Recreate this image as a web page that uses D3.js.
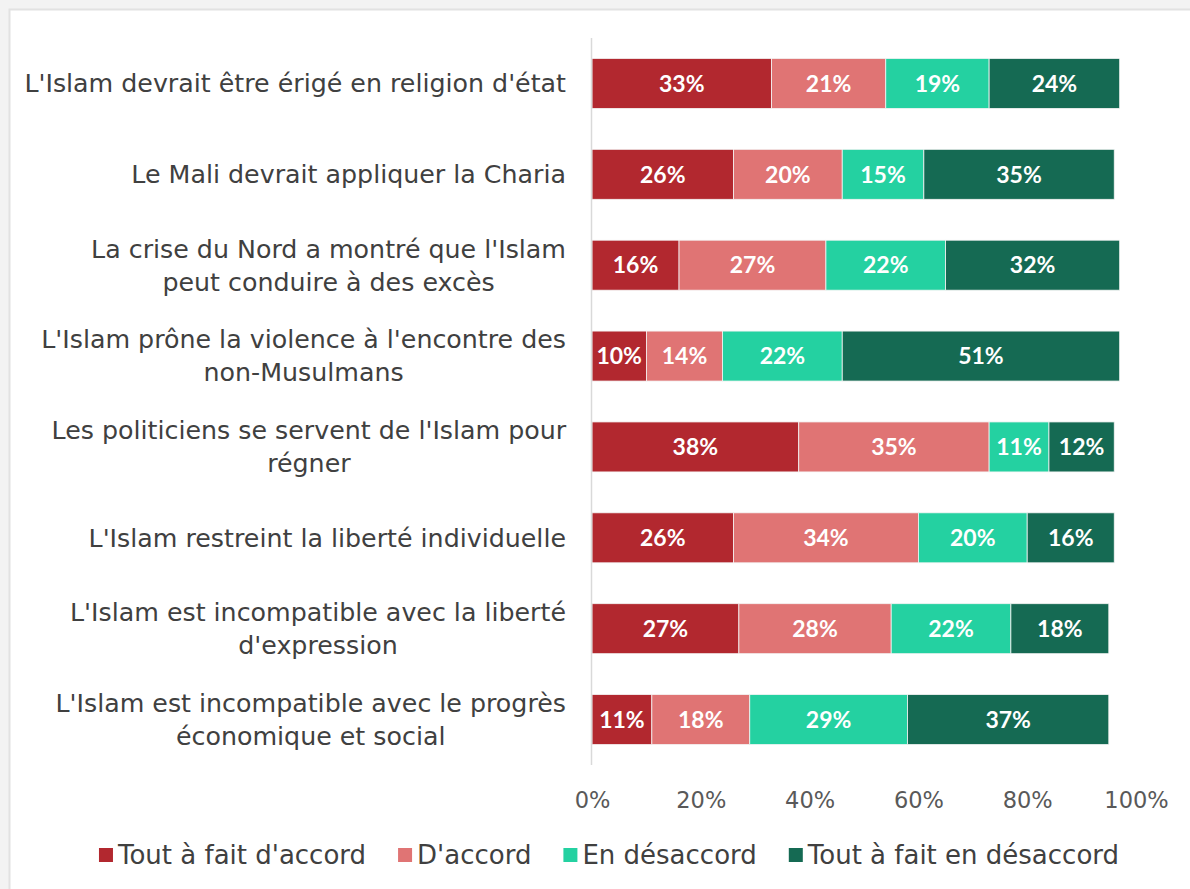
<!DOCTYPE html>
<meta charset="utf-8">
<head>
<title>Islam et société</title>
<style>
body { margin: 0; background: #f3f3f3; }
svg text { font-family: "DejaVu Sans", sans-serif; }
</style>
</head>
<body>
<div id="chart"></div>
<script src="https://d3js.org/d3.v7.min.js"></script>
<script>
var categories = [
	["L'Islam devrait être érigé en religion d'état"],
	["Le Mali devrait appliquer la Charia"],
	["La crise du Nord a montré que l'Islam", "peut conduire à des excès"],
	["L'Islam prône la violence à l'encontre des", "non-Musulmans"],
	["Les politiciens se servent de l'Islam pour", "régner"],
	["L'Islam restreint la liberté individuelle"],
	["L'Islam est incompatible avec la liberté", "d'expression"],
	["L'Islam est incompatible avec le progrès", "économique et social"]
];
var seriesNames = ["Tout à fait d'accord", "D'accord", "En désaccord", "Tout à fait en désaccord"];
var toutAccord    = [33, 26, 16, 10, 38, 26, 27, 11];
var accord        = [21, 20, 27, 14, 35, 34, 28, 18];
var desaccord     = [19, 15, 22, 22, 11, 20, 22, 29];
var toutDesaccord = [24, 35, 32, 51, 12, 16, 18, 37];
var ticks = [0, 20, 40, 60, 80, 100];
var colors = ["#b2282f", "#e07474", "#24d1a1", "#156a53"];

var width = 1190, height = 889;
var plotLeft = 592, plotRight = 1136, plotTop = 38, plotBottom = 765;

var svg = d3.select("#chart").append("svg")
	.attr("width", width)
	.attr("height", height);

// white card with faint border
svg.append("rect")
	.attr("x", 9.5).attr("y", 9.5)
	.attr("width", width).attr("height", height)
	.attr("fill", "#fff")
	.attr("stroke", "#e2e2e2")
	.attr("stroke-width", 2);

var rows = categories.map(function(c, i) {
	return {idx: i, v: [toutAccord[i], accord[i], desaccord[i], toutDesaccord[i]]};
});

var x = d3.scaleLinear().domain([0, 100]).range([plotLeft, plotRight]);
var y = d3.scaleBand().domain(d3.range(categories.length))
	.range([plotTop, plotBottom]).paddingInner(0.45).paddingOuter(0.225);

var g = svg.append("g");

rows.forEach(function(r) {
	var acc = 0;
	var segs = r.v.map(function(v, k) {
		var s = {k: k, x0: acc, x1: acc + v, v: v};
		acc += v;
		return s;
	});
	var row = g.append("g");
	row.selectAll("rect").data(segs).enter().append("rect")
		.attr("x", function(d) { return x(d.x0); })
		.attr("y", y(r.idx))
		.attr("width", function(d) { return x(d.x1) - x(d.x0); })
		.attr("height", y.bandwidth())
		.attr("fill", function(d) { return colors[d.k]; })
		.attr("stroke", "#f4f4f4")
		.attr("stroke-width", 0.8);
	row.selectAll("text").data(segs).enter().append("text")
		.attr("x", function(d) { return (x(d.x0) + x(d.x1)) / 2; })
		.attr("y", y(r.idx) + y.bandwidth() / 2)
		.attr("dy", "0.36em")
		.attr("text-anchor", "middle")
		.attr("fill", "#fff")
		.style("font-family", "Lato, sans-serif")
		.style("font-weight", "bold")
		.style("font-size", "23px")
		.text(function(d) { return d.v + "%"; });
});

// vertical axis line
svg.append("line")
	.attr("x1", plotLeft - 0.5).attr("x2", plotLeft - 0.5)
	.attr("y1", plotTop).attr("y2", plotBottom)
	.attr("stroke", "#d9d9d9")
	.attr("stroke-width", 1.5);

// category labels: block right-aligned, lines centred inside it
categories.forEach(function(lines, i) {
	var t = svg.append("text")
		.attr("fill", "#404040")
		.style("font-size", "25.3px")
		.attr("text-anchor", "middle");
	var spans = lines.map(function(l) { return t.append("tspan").text(l); });
	var maxW = d3.max(spans, function(s) { return s.node().getComputedTextLength(); });
	var cx = 566 - maxW / 2;
	var lh = 33;
	var cy = y(i) + y.bandwidth() / 2 - (lines.length - 1) * lh / 2;
	spans.forEach(function(s, j) {
		s.attr("x", cx).attr("y", cy + j * lh).attr("dy", "0.35em");
	});
});

// x axis
var xAxis = d3.axisBottom(x).tickValues(ticks).tickSize(0).tickPadding(0)
	.tickFormat(function(d) { return d + "%"; });
var ax = svg.append("g").attr("transform", "translate(0,800)").call(xAxis);
ax.select(".domain").remove();
ax.selectAll("text")
	.attr("dy", "0.35em")
	.attr("fill", "#595959")
	.style("font-size", "22.5px")
	.style("font-family", "DejaVu Sans, sans-serif");

// legend
var legend = svg.append("g").attr("transform", "translate(0,855)");
var items = legend.selectAll("g").data(seriesNames).enter().append("g");
items.append("rect")
	.attr("width", 14).attr("height", 14)
	.attr("y", -7)
	.attr("fill", function(d, i) { return colors[i]; });
items.append("text")
	.attr("x", 19)
	.attr("dy", "0.35em")
	.attr("fill", "#404040")
	.style("font-size", "26px")
	.text(function(d) { return d; });
var pos = 0, offs = [], gap = 32;
items.each(function() {
	offs.push(pos);
	pos += this.getBBox().width + gap;
});
pos -= gap;
var start = 609 - pos / 2;
items.attr("transform", function(d, i) { return "translate(" + (start + offs[i]) + ",0)"; });
</script>
</body>
